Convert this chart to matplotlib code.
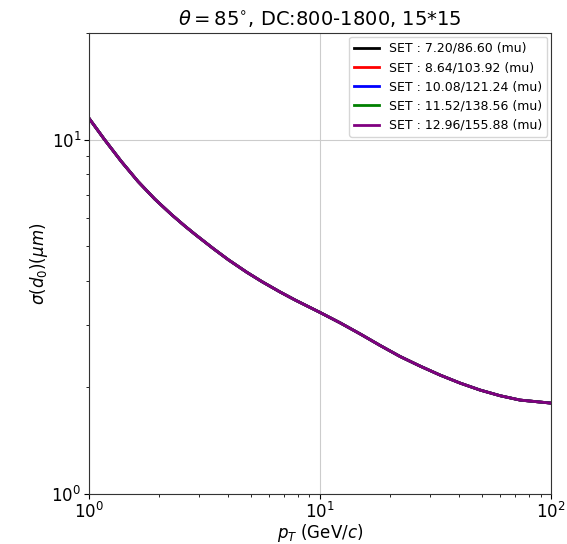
import matplotlib
matplotlib.use("Agg")
import matplotlib.pyplot as plt
from matplotlib.ticker import NullFormatter

pt = [1.0, 1.169, 1.38, 1.63, 1.925, 2.271, 2.596, 2.876, 3.452, 4.009, 4.817, 5.594,
      6.711, 7.795, 10.0, 12.21, 14.90, 18.19, 22.20, 27.10, 33.07, 40.37, 49.27,
      60.14, 73.40, 100.0]
sigma = [11.5, 10.0, 8.685, 7.625, 6.804, 6.156, 5.711, 5.409, 4.929, 4.584, 4.227, 3.979,
         3.718, 3.529, 3.254, 3.042, 2.831, 2.626, 2.444, 2.296, 2.166, 2.056, 1.965,
         1.894, 1.841, 1.805]

labels = ["SET : 7.20/86.60 (mu)", "SET : 8.64/103.92 (mu)", "SET : 10.08/121.24 (mu)",
          "SET : 11.52/138.56 (mu)", "SET : 12.96/155.88 (mu)"]
colors = ["black", "red", "blue", "green", "purple"]

fig = plt.figure(figsize=(5.67, 5.44), dpi=100)
ax = fig.add_axes([0.157, 0.092, 0.815, 0.847])
for lab, c in zip(labels, colors):
    ax.plot(pt, sigma, color=c, lw=2, label=lab)
ax.set_xscale("log")
ax.set_yscale("log")
ax.set_xlim(1, 100)
ax.set_ylim(1, 20)
ax.yaxis.set_minor_formatter(NullFormatter())
ax.grid(True, which="major", color="#cccccc", lw=0.8)
ax.tick_params(labelsize=12, pad=2)
ax.set_xlabel(r"$p_T$ (GeV/$c$)", fontsize=12, labelpad=0)
ax.set_ylabel(r"$\sigma(d_0)(\mu m)$", fontsize=12, labelpad=1)
ax.set_title(r"$\theta = 85^{\circ}$, DC:800-1800, 15*15", fontsize=14)
ax.legend(loc="upper right", fontsize=9, borderaxespad=0.3)
for s in ax.spines.values():
    s.set_color("#333333")
fig.savefig("out.png", dpi=100)
